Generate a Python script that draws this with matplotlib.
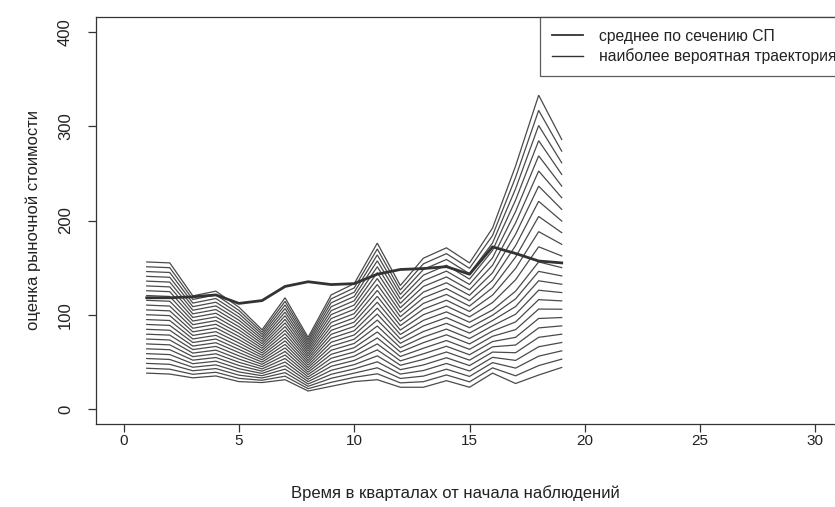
import numpy as np
import matplotlib
matplotlib.use("Agg")
import matplotlib.pyplot as plt
from matplotlib.lines import Line2D

plt.rcParams['font.family'] = ['Liberation Sans', 'DejaVu Sans']

# ---- data ----
quarters = list(range(1, 20))
mean_section = [118, 118, 119, 121, 112, 115, 130, 135, 132, 133,
                143, 148, 149, 151, 143, 172, 165, 157, 155]
fan_upper = [156, 155, 120, 125, 108, 84, 118, 76, 121, 133,
             176, 131, 160, 171, 155, 192, 258, 333, 286]
fan_median = [100, 99, 78, 82, 70, 57, 76, 49, 75, 83,
              107, 79, 94, 103, 92, 105, 125, 156, 150]
fan_lower = [38, 37, 33, 35, 29, 28, 31, 19, 24, 29,
             31, 23, 23, 30, 23, 38, 27, 36, 44]
n_trajectories = 24

x_ticks = [0, 5, 10, 15, 20, 25, 30]
y_ticks = [0, 100, 200, 300, 400]
legend_labels = ["среднее по сечению СП", "наиболее вероятная траектория"]
x_label = "Время в кварталах от начала наблюдений"
y_label = "оценка рыночной стоимости"

# ---- figure ----
W, H = 835, 507
fig = plt.figure(figsize=(W / 100, H / 100), dpi=100)
left, right, top, bottom = 96, 843, 17, 424
ax = fig.add_axes([left / W, 1 - bottom / H, (right - left) / W, (bottom - top) / H])

lo = np.array(fan_lower, float)
md = np.array(fan_median, float)
up = np.array(fan_upper, float)
half = n_trajectories // 2
fan_color = '#4a4a4a'
for k in range(n_trajectories):
    if k <= half:
        vals = lo + (md - lo) * k / half
    else:
        vals = md + (up - md) * (k - half) / (n_trajectories - 1 - half)
    ax.plot(quarters, vals, color=fan_color, lw=0.9, solid_joinstyle='miter')

ax.plot(quarters, mean_section, color='#333333', lw=2.0, zorder=5)

ax.set_xlim(-1.2, 31.2)
ax.set_ylim(-16, 416)
ax.set_xticks(x_ticks)
ax.set_yticks(y_ticks)
ax.set_xticklabels([str(t) for t in x_ticks], fontsize=11)
ax.set_yticklabels([str(t) for t in y_ticks], fontsize=12, rotation=90, va='center')
ax.tick_params(axis='both', length=5.5, width=0.9, color='#333333', labelcolor='#222222')
ax.tick_params(axis='x', pad=2)
ax.tick_params(axis='y', pad=11)
for s in ax.spines.values():
    s.set_linewidth(0.9)
    s.set_color('#333333')

ax.set_xlabel(x_label, fontsize=12, color='#222222')
ax.xaxis.set_label_coords((455 - left) / (right - left), -(485 - bottom) / (bottom - top))
ax.set_ylabel(y_label, fontsize=12, color='#222222')
ax.yaxis.set_label_coords((41 - left) / (right - left), 0.5)

handles = [Line2D([], [], color='#333333', lw=1.3),
           Line2D([], [], color='#333333', lw=1.0)]
leg = ax.legend(handles, legend_labels, loc='upper left',
                bbox_to_anchor=((540 - left) / (right - left), 1),
                borderaxespad=0, fontsize=11.3, frameon=True, fancybox=False,
                handlelength=2.0, handletextpad=1.0, labelspacing=0.28,
                borderpad=0.75)
leg.get_frame().set_edgecolor('#333333')
leg.get_frame().set_linewidth(0.9)
for t in leg.get_texts():
    t.set_color('#222222')

fig.savefig('out.png', dpi=100)
